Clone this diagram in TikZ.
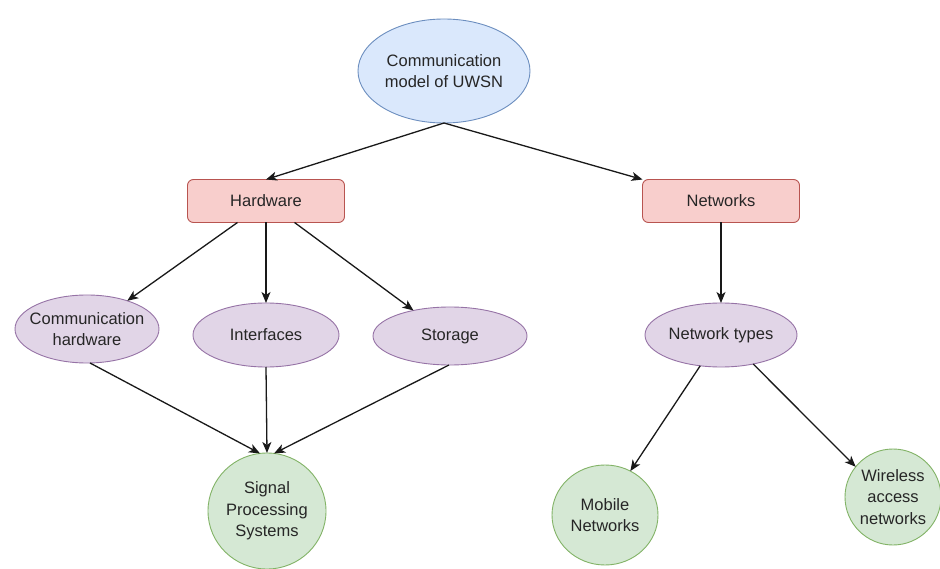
\documentclass[tikz,border=0pt]{standalone}
\usepackage{fontspec}
\setmainfont{Liberation Sans}
\usetikzlibrary{shapes.geometric,arrows.meta}
\definecolor{bluefill}{HTML}{DAE8FC}\definecolor{bluedraw}{HTML}{6C8EBF}
\definecolor{redfill}{HTML}{F8CECC}\definecolor{reddraw}{HTML}{B85450}
\definecolor{purfill}{HTML}{E1D5E7}\definecolor{purdraw}{HTML}{9673A6}
\definecolor{grnfill}{HTML}{D5E8D4}\definecolor{grndraw}{HTML}{82B366}
\definecolor{txt}{HTML}{262626}
\begin{document}
\begin{tikzpicture}[x=1pt,y=-1pt,
  base/.style={inner sep=0pt,outer sep=0pt,line width=0.9pt,align=center,text=txt,
    font=\fontsize{16.5}{21.5}\selectfont},
  topell/.style={base,ellipse,fill=bluefill,draw=bluedraw,minimum width=172pt,minimum height=104pt},
  box/.style={base,rectangle,rounded corners=6pt,fill=redfill,draw=reddraw,minimum width=157pt,minimum height=43pt},
  pell/.style={base,ellipse,fill=purfill,draw=purdraw},
  gcirc/.style={base,ellipse,fill=grnfill,draw=grndraw},
  arr/.style={line width=1.3pt,draw=black!90,-{Stealth[length=11pt,width=9pt,inset=3pt]}}
]
\useasboundingbox[fill=white] (0,0) rectangle (940,569);
\node[topell] (top) at (444,71) {Communication\\model of UWSN};
\node[box] (hw) at (266,201) {Hardware};
\node[box] (nw) at (721,201) {Networks};
\node[pell,minimum width=144pt,minimum height=68pt,
  label={[base]center:Communication\\hardware}] (ch) at (87,329) {};
\node[pell,minimum width=146pt,minimum height=64pt] (if) at (266,335) {Interfaces};
\node[pell,minimum width=154pt,minimum height=58pt] (st) at (450,336) {Storage};
\node[pell,minimum width=152pt,minimum height=64pt] (nt) at (721,335) {Network types};
\node[gcirc,minimum width=118pt,minimum height=116pt] (sps) at (267,511) {Signal\\Processing\\Systems};
\node[gcirc,minimum width=106pt,minimum height=100pt] (mb) at (605,515) {Mobile\\Networks};
\node[gcirc,minimum width=96pt,minimum height=96pt] (wl) at (893,497) {Wireless\\access\\networks};
\draw[arr] (top.south) -- (hw.north);
\draw[arr] (top.south) -- (nw.north west);
\draw[arr] (hw.217) -- (ch.35);
\draw[arr] (hw.south) -- (if.north);
\draw[arr] (hw.-37) -- (st.145);
\draw[arr] (nw.south) -- (nt.north);
\draw[arr] (ch.-85) -- (sps.97);
\draw[arr] (if.south) -- (sps.north);
\draw[arr] (st.-92) -- (sps.83);
\draw[arr] (nt.-124) -- (mb.60);
\draw[arr] (nt.-42) -- (wl.141);
\end{tikzpicture}
\end{document}
